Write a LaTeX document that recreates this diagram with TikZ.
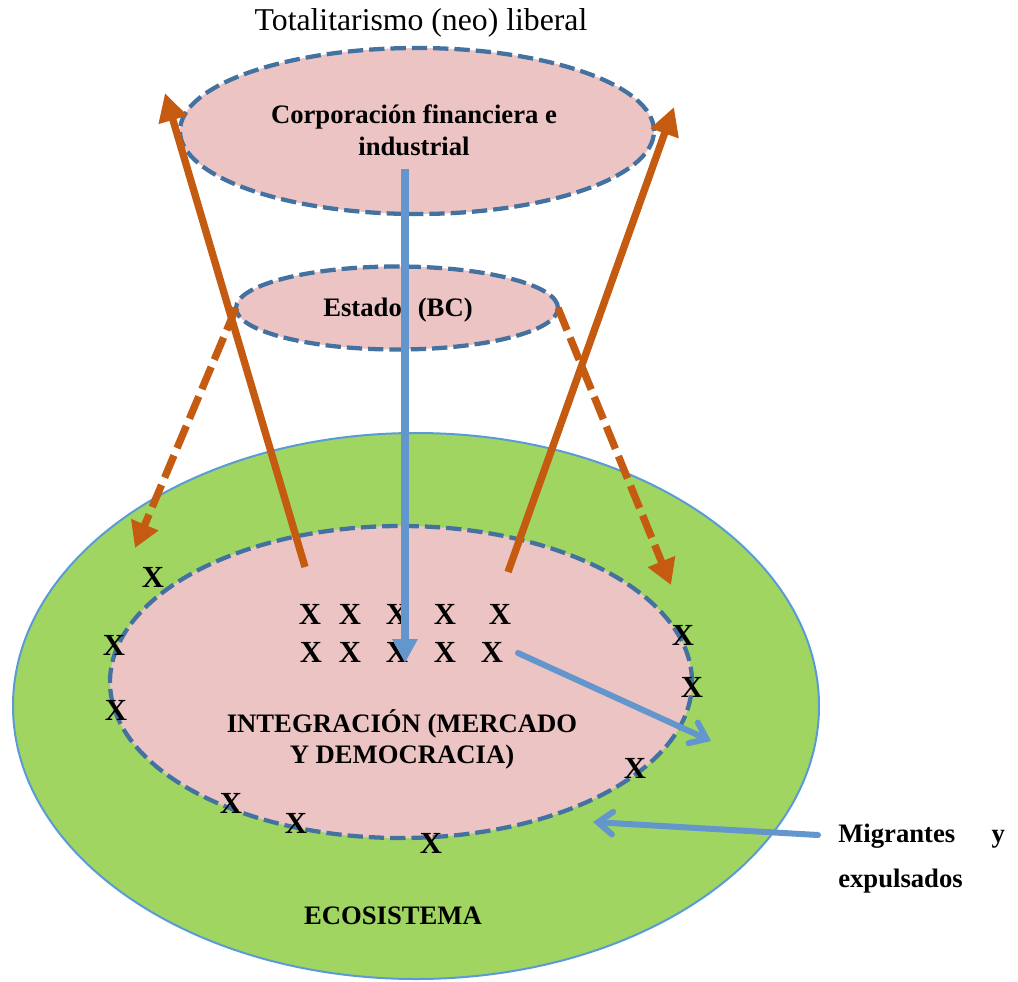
\documentclass[tikz,border=0pt]{standalone}
\usepackage{fontspec}
\setmainfont{Liberation Serif}
\usetikzlibrary{shapes.geometric,arrows.meta}
\definecolor{ecogreen}{RGB}{160,213,98}
\definecolor{ecoedge}{RGB}{91,155,213}
\definecolor{zonepink}{RGB}{236,196,196}
\definecolor{zoneedge}{RGB}{68,114,160}
\definecolor{flowblue}{RGB}{99,150,204}
\definecolor{powerorange}{RGB}{197,90,17}

\begin{document}
\begin{tikzpicture}[x=0.75pt,y=-0.75pt,
  zone/.style={ellipse, fill=zonepink, draw=zoneedge, line width=3.2pt,
    dash pattern=on 11.5pt off 4.5pt, inner sep=0pt, outer sep=0pt},
  boldlabel/.style={font=\fontsize{20}{24}\selectfont\bfseries, align=center, inner sep=0pt},
  xmark/.style={font=\fontsize{23}{23}\selectfont\bfseries, inner sep=0pt},
  rise/.style={draw=powerorange, line width=5.5pt, -{Triangle[length=21pt,width=21pt]}},
  descend/.style={draw=powerorange, line width=5.5pt, dash pattern=on 18pt off 6pt,
    -{Triangle[length=19pt,width=21pt]}},
  flow/.style={draw=flowblue, line width=5.5pt, -{Triangle[length=18pt,width=18pt]}},
  drift/.style={draw=flowblue, line width=4.5pt, line cap=round,
    -{Straight Barb[length=11pt,width=17pt,line cap=round]}},
]
\useasboundingbox (0,0) rectangle (1018,982);

% outer ecosystem and the nested zones
\node[ellipse, fill=ecogreen, draw=ecoedge, line width=1.5pt, inner sep=0pt, outer sep=0pt,
      minimum width=604.5pt, minimum height=409.5pt] (eco) at (416,706) {};
\node[zone, minimum width=436.5pt, minimum height=234pt] (integ) at (401,682) {};
\node[zone, minimum width=355.5pt, minimum height=124.5pt] (corp) at (417,131) {};
\node[zone, minimum width=241.5pt, minimum height=62.25pt] (estado) at (397,308) {};

% texts
\node[font=\fontsize{23.8}{28}\selectfont, inner sep=0pt] (title) at (421,23) {Totalitarismo (neo) liberal};
\node[boldlabel] (corptext) at (414,130) {Corporación financiera e\\industrial};
\node[boldlabel] (estadotext) at (398,310) {Estado\hspace{12pt}(BC)};
\node[boldlabel, font=\fontsize{20}{23.25}\selectfont\bfseries] (integtext) at (402,739) {INTEGRACIÓN (MERCADO\\Y DEMOCRACIA)};
\node[boldlabel] (ecotext) at (393,916) {ECOSISTEMA};
\node[inner sep=0pt, anchor=north west, text width=125pt, align=left,
      font=\fontsize{20}{33.75}\selectfont\bfseries] (migr) at (838,824) {Migrantes\hfill y\\expulsados};

% people: inner rows and those on the border
\node[xmark] (x1) at (310,614) {X};
\node[xmark] (x2) at (350,614) {X};
\node[xmark] (x3) at (397,614) {X};
\node[xmark] (x4) at (445,614) {X};
\node[xmark] (x5) at (500,614) {X};
\node[xmark] (x6) at (311,652) {X};
\node[xmark] (x7) at (350,652) {X};
\node[xmark] (x8) at (397,652) {X};
\node[xmark] (x9) at (445,652) {X};
\node[xmark] (x10) at (492,652) {X};
\node[xmark] (x11) at (153,577) {X};
\node[xmark] (x12) at (114,645) {X};
\node[xmark] (x13) at (116,710) {X};
\node[xmark] (x14) at (683,635) {X};
\node[xmark] (x15) at (692,687) {X};
\node[xmark] (x16) at (635,768) {X};
\node[xmark] (x17) at (231,803) {X};
\node[xmark] (x18) at (296,823) {X};
\node[xmark] (x19) at (431,843) {X};

% free ends of the connectors
\coordinate (lsTail) at (305,567);
\coordinate (lsTip) at (165,93);
\coordinate (rsTail) at (508,572);
\coordinate (rsTip) at (674,107);
\coordinate (ldTip) at (135,548);
\coordinate (rdTip) at (671,585);
\coordinate (vTop) at (405,169);
\coordinate (vTip) at (405,663);
\coordinate (dStart) at (518,653);
\coordinate (dTip) at (711,741);
\coordinate (mTail) at (818,835);
\coordinate (mTip) at (593,822);

% state pushes down, capital rises up
\draw[descend] (estado.west) -- (ldTip);
\draw[descend] (estado.east) -- (rdTip);
\draw[rise] (lsTail) -- (lsTip);
\draw[rise] (rsTail) -- (rsTip);

% blue flows
\draw[flow] (vTop) -- (vTip);
\draw[drift] (dStart) -- (dTip);
\draw[drift] (mTail) -- (mTip);
\end{tikzpicture}
\end{document}
